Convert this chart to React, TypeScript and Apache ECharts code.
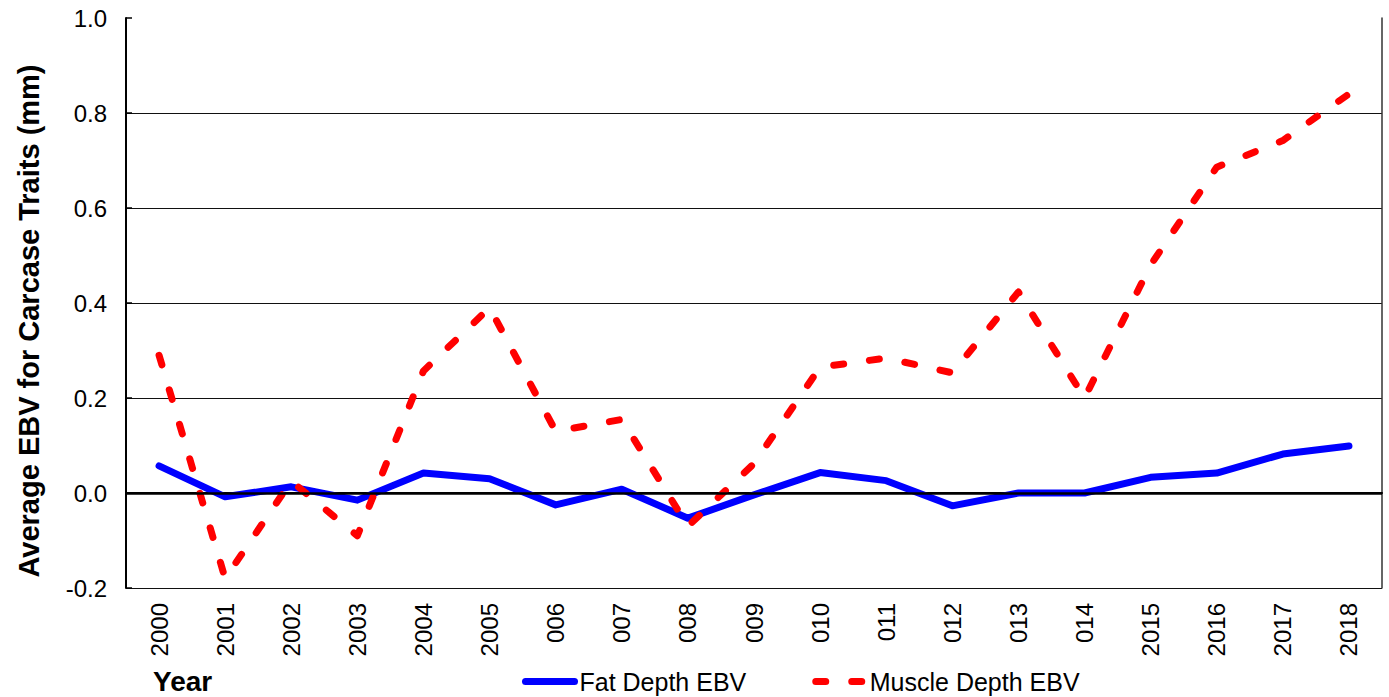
import React, { useEffect, useRef } from "react";
import * as echarts from "echarts";

const years = [
  "2000", "2001", "2002", "2003", "2004", "2005", "006", "007", "008", "009",
  "010", "011", "012", "013", "014", "2015", "2016", "2017", "2018",
];
const fatDepth = [
  0.057, -0.008, 0.013, -0.015, 0.042, 0.03, -0.025, 0.008, -0.053, -0.004,
  0.043, 0.026, -0.027, 0.0, 0.0, 0.033, 0.042, 0.082, 0.099,
];
const muscleDepth = [
  0.29, -0.18, 0.025, -0.09, 0.257, 0.39, 0.13, 0.155, -0.07, 0.062,
  0.265, 0.284, 0.253, 0.423, 0.2, 0.48, 0.686, 0.742, 0.84,
];
const yMin = -0.2;
const yMax = 1.0;
const yStep = 0.2;

const FONT = "Arial, 'Liberation Sans', sans-serif";

export default function App() {
  const ref = useRef<HTMLDivElement>(null);
  useEffect(() => {
    if (!ref.current) return;
    const chart = echarts.init(ref.current, null, { renderer: "svg" });
    chart.setOption({
      animation: false,
      backgroundColor: "#ffffff",
      grid: { left: 126, right: 7, top: 18, bottom: 109, containLabel: false },
      legend: {
        left: 517,
        top: 664,
        itemWidth: 49,
        itemHeight: 14,
        itemGap: 66,
        textStyle: { fontFamily: FONT, fontSize: 25, color: "#000" },
        data: [
          {
            name: "Fat Depth EBV",
            itemStyle: { opacity: 0 },
            lineStyle: { width: 7, cap: "round" },
          },
          {
            name: "Muscle Depth EBV",
            itemStyle: { opacity: 0 },
            lineStyle: { width: 7, cap: "round" },
          },
        ],
      },
      xAxis: {
        type: "category",
        data: years,
        boundaryGap: true,
        axisLine: { show: true, lineStyle: { color: "#000", width: 2 } },
        axisTick: { show: false },
        axisLabel: {
          rotate: 90,
          interval: 0,
          margin: 15,
          fontFamily: FONT,
          fontSize: 24,
          color: "#000",
        },
        splitLine: { show: false },
      },
      yAxis: [
        {
          type: "value",
          min: yMin,
          max: yMax,
          interval: yStep,
          axisLine: { show: true, lineStyle: { color: "#000", width: 2 } },
          axisTick: { show: true, inside: true, length: 6, lineStyle: { color: "#000", width: 1.5 } },
          axisLabel: {
            fontFamily: FONT,
            fontSize: 24,
            color: "#000",
            margin: 19,
            formatter: (v: number) => v.toFixed(1),
          },
          splitLine: {
            show: true,
            showMaxLine: false,
            lineStyle: { color: "#111", width: 1.2 },
          },
        },
        {
          type: "value",
          min: yMin,
          max: yMax,
          interval: yStep,
          position: "right",
          axisLine: { show: true, lineStyle: { color: "#333", width: 1.5 } },
          axisTick: { show: false },
          axisLabel: { show: false },
          splitLine: { show: false },
        },
      ],
      series: [
        {
          name: "zero",
          type: "line",
          data: [],
          z: 1,
          silent: true,
          markLine: {
            silent: true,
            symbol: "none",
            label: { show: false },
            lineStyle: { color: "#000", width: 2.5, type: "solid" },
            data: [{ yAxis: 0 }],
          },
        },
        {
          name: "Fat Depth EBV",
          type: "line",
          data: fatDepth,
          symbol: "none",
          color: "#0000ff",
          z: 3,
          lineStyle: { color: "#0000ff", width: 7, join: "round", cap: "round" },
        },
        {
          name: "Muscle Depth EBV",
          type: "line",
          data: muscleDepth,
          symbol: "none",
          color: "#ff0000",
          z: 4,
          lineStyle: {
            color: "#ff0000",
            width: 7,
            type: [10, 26],
            cap: "round",
            join: "round",
          },
        },
      ],
      graphic: [
        {
          type: "text",
          x: 29,
          y: 321,
          rotation: Math.PI / 2,
          style: {
            text: "Average EBV for Carcase Traits (mm)",
            fontFamily: FONT,
            fontSize: 29,
            fontWeight: "bold",
            fill: "#000",
            align: "center",
            verticalAlign: "middle",
          },
        },
        {
          type: "text",
          left: 153,
          top: 667,
          style: {
            text: "Year",
            fontFamily: FONT,
            fontSize: 28,
            fontWeight: "bold",
            fill: "#000",
          },
        },
      ],
    });
    return () => chart.dispose();
  }, []);
  return <div ref={ref} style={{ width: 1389, height: 697, position: "absolute", left: 0, top: 0 }} />;
}
